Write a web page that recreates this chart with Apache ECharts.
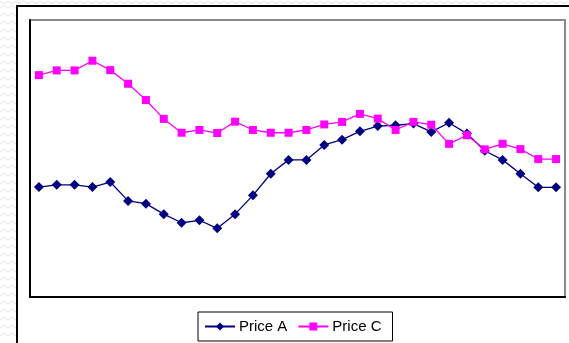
<!DOCTYPE html>
<html>
<head>
<meta charset="utf-8">
<script src="https://cdn.jsdelivr.net/npm/echarts@6/dist/echarts.min.js"></script>
<style>
  html, body { margin: 0; padding: 0; background: #ffffff; }
  #chart { width: 569px; height: 343px; }
</style>
</head>
<body>
<div id="chart"></div>
<script>
// Periods along the x axis (unlabelled)
const periods = Array.from({ length: 30 }, (_, i) => String(i + 1));

// Price series
const priceA = [39.7, 40.5, 40.5, 39.7, 41.5, 34.7, 33.7, 29.9, 26.8, 27.7,
                24.8, 29.9, 36.7, 44.5, 49.5, 49.5, 54.9, 56.8, 59.8, 61.7,
                62.0, 62.6, 59.6, 62.9, 59.0, 52.8, 49.5, 44.5, 39.6, 39.6];
const priceC = [80.1, 81.8, 81.8, 85.3, 81.9, 77.0, 71.1, 64.3, 59.3, 60.3,
                59.2, 63.3, 60.3, 59.3, 59.3, 60.3, 62.3, 63.2, 66.1, 64.4,
                60.3, 63.2, 62.2, 55.3, 58.4, 53.3, 55.3, 53.4, 49.8, 49.8];

const seriesNames = ['Price A', 'Price C'];

// Faint zigzag texture around the chart frame
function zigzagRows() {
  const out = [];
  const stroke = { stroke: '#e6e6e6', lineWidth: 1, fill: null };
  // top strip
  for (let y = 1; y < 6; y += 5) {
    const pts = [];
    for (let x = 0; x <= 569; x += 4) pts.push([x, y + ((x / 4) % 2 ? 2.5 : 0)]);
    out.push({ type: 'polyline', shape: { points: pts }, style: stroke, silent: true });
  }
  // left strip
  for (let y = 8; y < 343; y += 8) {
    const pts = [];
    for (let x = 0; x <= 16; x += 4) pts.push([x, y + ((x / 4) % 2 ? -3 : 0)]);
    out.push({ type: 'polyline', shape: { points: pts }, style: stroke, silent: true });
  }
  return out;
}

const chart = echarts.init(document.getElementById('chart'), null, { renderer: 'canvas' });

chart.setOption({
  animation: false,
  backgroundColor: '#ffffff',
  textStyle: { fontFamily: 'Liberation Sans, Arial, sans-serif' },
  graphic: zigzagRows().concat([
    {
      type: 'rect',
      shape: { x: 17, y: 6, width: 600, height: 400 },
      style: { fill: '#ffffff', stroke: '#000000', lineWidth: 2 },
      silent: true,
      z: -1
    }
  ]),
  grid: {
    left: 30, top: 20, right: 4, bottom: 46,
    show: true,
    backgroundColor: '#ffffff',
    borderColor: '#8a8a8a',
    borderWidth: 2
  },
  legend: {
    data: seriesNames,
    left: 198, top: 312,
    orient: 'horizontal',
    padding: [7, 11, 7, 6],
    itemGap: 10,
    itemWidth: 30,
    itemHeight: 10,
    borderColor: '#000000',
    borderWidth: 1,
    backgroundColor: '#ffffff',
    textStyle: { fontFamily: 'Liberation Sans, Arial, sans-serif', fontSize: 15, color: '#000000', padding: [0, 0, 0, -1] }
  },
  xAxis: {
    type: 'category',
    data: periods,
    boundaryGap: true,
    axisLine: { show: true, lineStyle: { color: '#000000', width: 2 } },
    axisTick: { show: false },
    axisLabel: { show: false },
    splitLine: { show: false }
  },
  yAxis: {
    type: 'value',
    min: 0, max: 100,
    axisLine: { show: true, lineStyle: { color: '#000000', width: 2 } },
    axisTick: { show: false },
    axisLabel: { show: false },
    splitLine: { show: false }
  },
  series: [
    {
      name: seriesNames[0],
      type: 'line',
      data: priceA,
      color: '#000080',
      symbol: 'diamond',
      symbolSize: 10,
      lineStyle: { color: '#000080', width: 1.3 },
      itemStyle: { color: '#000080' }
    },
    {
      name: seriesNames[1],
      type: 'line',
      data: priceC,
      color: '#ff00ff',
      symbol: 'rect',
      symbolSize: 8,
      lineStyle: { color: '#ff00ff', width: 1.3 },
      itemStyle: { color: '#ff00ff' }
    }
  ]
});
</script>
</body>
</html>
